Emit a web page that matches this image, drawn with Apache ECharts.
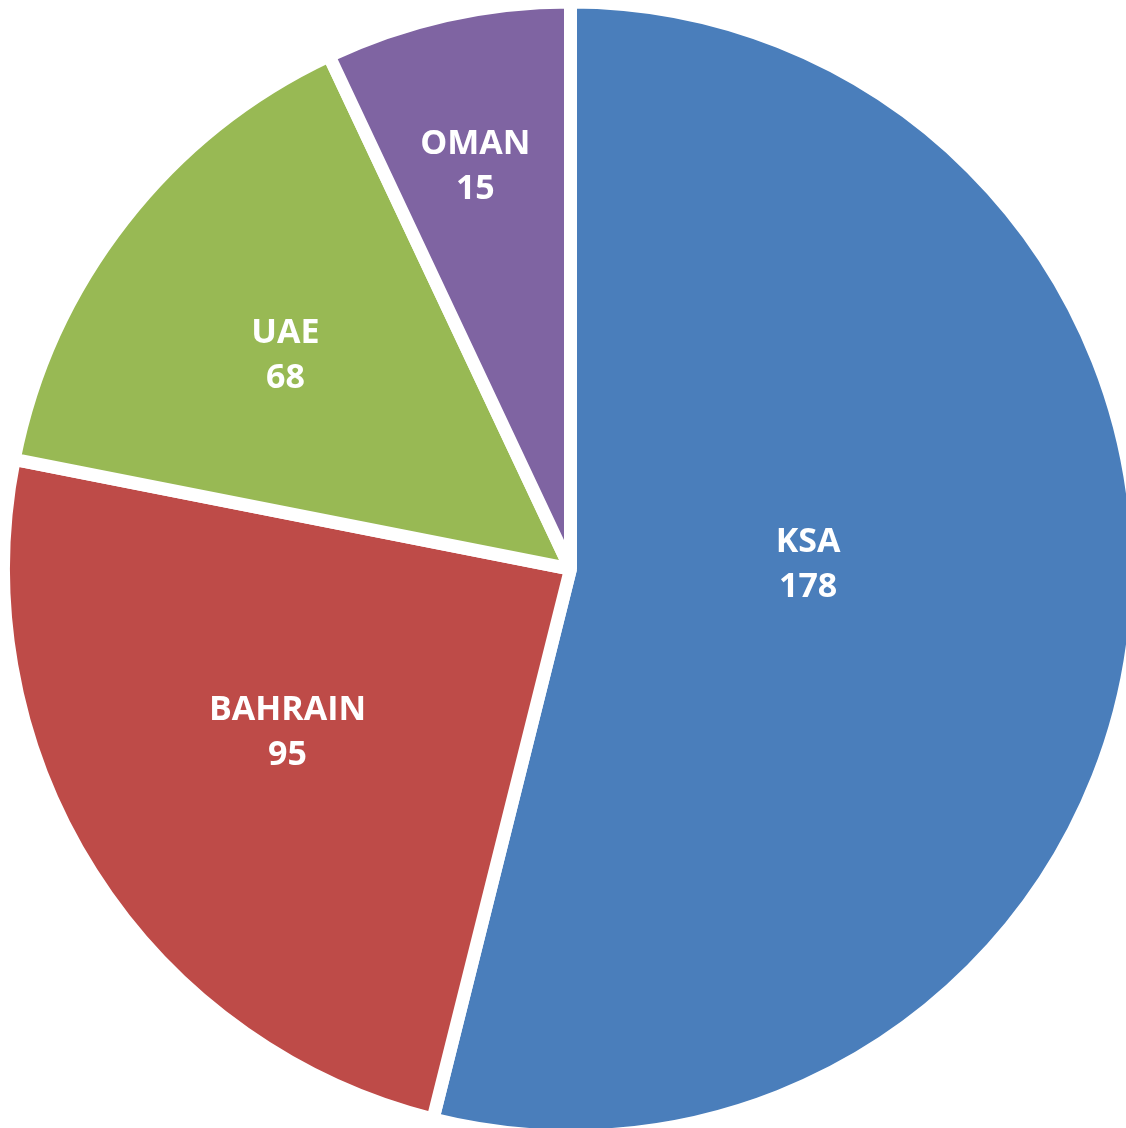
<!DOCTYPE html>
<html>
<head>
<meta charset="utf-8">
<script src="https://cdn.jsdelivr.net/npm/echarts@6/dist/echarts.min.js"></script>
<style>
html,body{margin:0;padding:0;background:#fff;}
#chart{width:1126px;height:1128px;}
</style>
</head>
<body>
<div id="chart"></div>
<script>
// Data
const categories = ['KSA', 'BAHRAIN', 'UAE', 'OMAN'];
const labelValues = [178, 95, 68, 15];          // values printed on the slices
const sliceShares = [53.9, 24.2, 14.9, 7.0];    // share of the circle (%)

// Styling / layout (not data)
const colors = ['#4A7EBB', '#BE4B48', '#98B954', '#7F64A2'];
const labelRadialFrac = [0.424, 0.583, 0.635, 0.738];
const labelAngleNudge = [-8, 2.4, -1.2, -0.7];
const cx = 570.5, cy = 569, R = 567, gap = 13;

const total = sliceShares.reduce((a, b) => a + b, 0);
const midAngles = [];
let acc = 0;
sliceShares.forEach(v => {
  const a0 = acc / total * 360;
  acc += v;
  const a1 = acc / total * 360;
  midAngles.push((a0 + a1) / 2);
});

const chart = echarts.init(document.getElementById('chart'), null, {renderer: 'canvas'});
chart.setOption({
  animation: false,
  series: [{
    type: 'pie',
    center: [cx, cy],
    radius: [0, R],
    startAngle: 90,
    clockwise: true,
    avoidLabelOverlap: false,
    silent: true,
    emphasis: {disabled: true},
    itemStyle: {borderColor: '#ffffff', borderWidth: gap, borderJoin: 'bevel'},
    label: {
      show: true,
      position: 'inside',
      color: '#ffffff',
      fontFamily: 'Open Sans',
      fontWeight: 'bold',
      fontSize: 34,
      lineHeight: 45,
      align: 'center',
      formatter: p => p.name + '\n' + labelValues[p.dataIndex]
    },
    labelLine: {show: false},
    labelLayout: function (p) {
      const i = p.dataIndex;
      const vis = R - gap / 2;
      const a = (midAngles[i] + labelAngleNudge[i]) * Math.PI / 180;
      const r = vis * labelRadialFrac[i];
      return {x: cx + r * Math.sin(a), y: cy - r * Math.cos(a), align: 'center', verticalAlign: 'middle'};
    },
    data: categories.map((c, i) => ({name: c, value: sliceShares[i], itemStyle: {color: colors[i]}}))
  }]
});
</script>
</body>
</html>
